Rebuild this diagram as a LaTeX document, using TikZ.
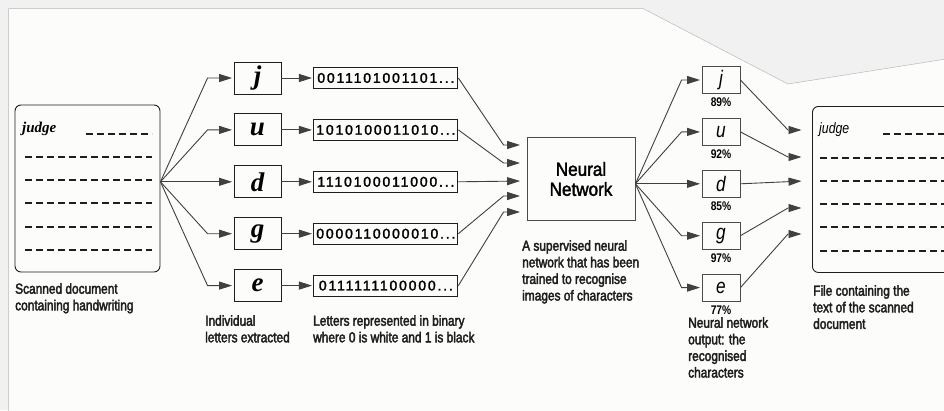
\documentclass[tikz,border=0pt]{standalone}
\usepackage{fontspec}
\setmainfont{Liberation Sans}
\newfontfamily\capfont[FakeStretch=0.82, FakeBold=2.6]{Liberation Sans}
\newfontfamily\outfont[FakeStretch=0.82]{Liberation Sans}
\newfontfamily\nnfont[FakeStretch=0.9, FakeBold=2]{Liberation Sans}
\newfontfamily\binfont[FakeBold=2, LetterSpace=13]{Liberation Sans}
\newfontfamily\hwfont{Liberation Serif}
\usepackage{xcolor}
\usetikzlibrary{arrows.meta, positioning}

\definecolor{pagebg}{HTML}{FCFCFA}
\definecolor{outbg}{HTML}{F1F1F1}
\definecolor{ink}{HTML}{1E1E1E}

\begin{document}
\begin{tikzpicture}[x=1pt, y=-1pt, node distance=19pt,
    arr/.style={-{Triangle[length=13pt,width=8pt]}, draw=ink!85, line width=0.9pt, shorten >=1.5pt},
    docbox/.style={draw=ink, line width=0.9pt, rounded corners=6pt, inner sep=0pt},
    letterbox/.style={draw=ink, line width=0.9pt, minimum width=47pt, minimum height=32pt, inner sep=0pt,
        font=\hwfont\bfseries\itshape\fontsize{27}{27}\selectfont},
    binbox/.style={draw=ink, line width=0.9pt, minimum width=144pt, minimum height=21pt, inner sep=0pt,
        font=\binfont\fontsize{14}{14}\selectfont},
    nnbox/.style={draw=ink!80, line width=0.9pt, minimum width=108pt, minimum height=83pt, align=center,
        font=\nnfont\fontsize{19}{20}\selectfont},
    outbox/.style={draw=ink!80, line width=0.9pt, minimum width=38pt, minimum height=27pt, inner sep=0pt,
        font=\outfont\itshape\fontsize{21}{21}\selectfont},
    pct/.style={inner sep=0pt, font=\outfont\bfseries\fontsize{12.5}{12.5}\selectfont},
    caption/.style={inner sep=0pt, anchor=north west, align=left, text=ink,
        font=\capfont\fontsize{14.5}{16.6}\selectfont},
    dashline/.style={draw=ink, line width=2.6pt, dash pattern=on 7pt off 4pt}]

    % Page
    \useasboundingbox (0,0) rectangle (944,410);
    \fill[outbg] (0,0) rectangle (944,410);
    \filldraw[fill=pagebg, draw=gray!55, line width=0.5pt]
        (8.5,412) -- (8.5,8.5) -- (643,8.5) -- (788,84) -- (946,59) -- (946,412);
    \clip (0,0) rectangle (944,410);

    % Scanned document
    \node[docbox, minimum width=145pt, minimum height=167pt] (scan) at (87.5,188.5) {};
    \node[anchor=north west, inner sep=0pt, font=\hwfont\bfseries\itshape\fontsize{15}{15}\selectfont] (scanword) at (22,122) {judge};
    \draw[dashline] (86,134) -- (152,134);
    \foreach \y in {157,180,203,227,250}
        \draw[dashline] (25,\y) -- (152,\y);
    \node[caption] (scancap) at (15,283) {Scanned document\\containing handwriting};

    % Letters extracted
    \node[letterbox] (lj) at (257.5,78) {j};
    \node[letterbox, below=of lj] (lu) {u};
    \node[letterbox, below=of lu] (ld) {d};
    \node[letterbox, below=of ld] (lg) {g};
    \node[letterbox, below=of lg] (le) {e};
    \node[caption] (lettercap) at (205,315) {Individual\\letters extracted};

    \foreach \n in {lj,lu,lg,le}
        \draw[arr] (scan.east |- ld) -- ([xshift=-26pt]\n.west) -- (\n.west);
    \draw[arr] (scan.east |- ld) -- (ld.west);

    % Binary strings
    \node[binbox, right=32pt of lj] (bj) {0011101001101...};
    \node[binbox, right=32pt of lu] (bu) {1010100011010...};
    \node[binbox, right=32pt of ld] (bd) {1110100011000...};
    \node[binbox, right=32pt of lg] (bg) {0000110000010...};
    \node[binbox, right=32pt of le] (be) {0111111100000...};
    \node[caption] (bincap) at (313,315) {Letters represented in binary\\where 0 is white and 1 is black};

    \foreach \a/\b in {lj/bj, lu/bu, ld/bd, lg/bg, le/be}
        \draw[arr] (\a) -- (\b);

    % Neural network
    \node[nnbox] (nn) at (581,179) {Neural\\Network};
    \node[caption] (nncap) at (522,240) {A supervised neural\\network that has been\\trained to recognise\\images of characters};

    \coordinate (in1) at ([xshift=-5pt, yshift=34pt]nn.west);
    \coordinate (in2) at ([xshift=-5pt, yshift=16pt]nn.west);
    \coordinate (in3) at ([xshift=-5pt, yshift=-2pt]nn.west);
    \coordinate (in4) at ([xshift=-5pt, yshift=-17pt]nn.west);
    \coordinate (in5) at ([xshift=-5pt, yshift=-33pt]nn.west);
    \foreach \b/\i in {bj/in1, bu/in2, bg/in4, be/in5}
        \draw[arr] (\b.east) -- ([xshift=-18pt]\i) -- (\i);
    \draw[arr] (bd.east) -- (in3);

    % Recognised characters
    \node[outbox] (oj) at (721,80) {j};
    \node[outbox, below=24pt of oj] (ou) {u};
    \node[outbox, below=24pt of ou] (od) {d};
    \node[outbox, below=24pt of od] (og) {g};
    \node[outbox, below=24pt of og] (oe) {e};
    \node[pct, below=4pt of oj] (pj) {89\%};
    \node[pct, below=4pt of ou] (pu) {92\%};
    \node[pct, below=4pt of od] (pd) {85\%};
    \node[pct, below=4pt of og] (pg) {97\%};
    \node[pct, below=4pt of oe] (pe) {77\%};
    \node[caption] (outcap) at (688,317) {Neural network\\output: the\\recognised\\characters};

    \foreach \n in {oj,ou,og,oe}
        \draw[arr] (nn.east |- od) -- ([xshift=-20pt]\n.west) -- (\n.west);
    \draw[arr] (nn.east |- od) -- (od.west);

    % Text file
    \node[docbox, anchor=north west, minimum width=200pt, minimum height=166pt] (textfile) at (812,106) {};
    \node[anchor=north west, inner sep=0pt, font=\outfont\itshape\fontsize{15}{15}\selectfont] (fileword) at (819,122) {judge};
    \draw[dashline] (883,134) -- (944,134);
    \foreach \y in {158,181,204,227,251}
        \draw[dashline] (820,\y) -- (944,\y);
    \node[caption] (filecap) at (813,285) {File containing the\\text of the scanned\\document};

    \coordinate (t1) at (803,130);
    \coordinate (t2) at (803,157);
    \coordinate (t3) at (803,181);
    \coordinate (t4) at (803,208);
    \coordinate (t5) at (803,234);
    \foreach \o/\t in {oj/t1, ou/t2, og/t4, oe/t5}
        \draw[arr] (\o.east) -- ([xshift=-15pt]\t) -- (\t);
    \draw[arr] (od.east) -- (t3);
\end{tikzpicture}
\end{document}
